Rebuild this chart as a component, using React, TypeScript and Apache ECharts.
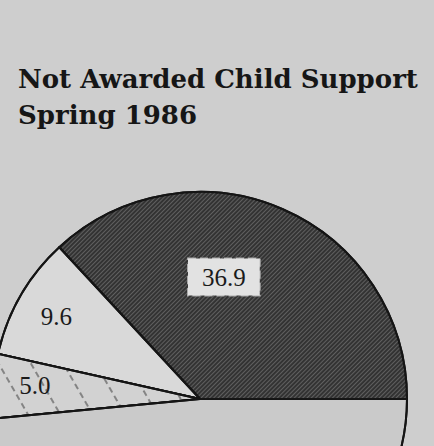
import React, { useEffect, useRef } from "react";
import * as echarts from "echarts";

const titleLines = ["Not Awarded Child Support", "Spring 1986"];
const categories = ["Awarded, not supposed", "Other", "Pending", "Remainder"];
const values = [36.9, 9.6, 5.0, 48.5];
const labelShown = [true, true, true, false];

export default function App() {
  const ref = useRef<HTMLDivElement>(null);
  useEffect(() => {
    document.body.style.margin = "0";
    const chart = echarts.init(ref.current!, undefined, { renderer: "svg" });
    const cx = 200;
    const cy = 399;
    const R = 207;
    const labelRadius = [0.6, 0.8, 0.8, 0.5];
    const labelAngleShift = [12.5, 0, -1, 0];
    const total = values.reduce((a, b) => a + b, 0);
    const fills = ["#333333", "#d9d9d9", "#d2d2d2", "#cacaca"];
    const decals: any[] = [
      {
        symbol: "rect",
        color: "rgba(200,200,200,0.3)",
        dashArrayX: [1, 0],
        dashArrayY: [1, 2],
        rotation: -Math.PI / 4,
        symbolSize: 1,
      },
      { symbol: "none" },
      {
        symbol: "rect",
        color: "rgba(80,80,80,0.6)",
        dashArrayX: [[6, 4], [0, 3]],
        dashArrayY: [2, 12],
        rotation: Math.PI / 3,
        symbolSize: 1,
      },
      { symbol: "none" },
    ];
    chart.setOption({
      animation: false,
      backgroundColor: "#cecece",
      aria: { enabled: true, decal: { show: true } },
      graphic: titleLines.map((t, i) => ({
        type: "text",
        left: 18,
        top: 66 + i * 36,
        style: {
          text: t,
          font: "bold 26px 'DejaVu Serif', serif",
          fill: "#161616",
        },
      })),
      series: [
        {
          type: "pie",
          center: [cx, cy],
          radius: [0, R],
          startAngle: 0,
          clockwise: false,
          avoidLabelOverlap: false,
          label: {
            show: true,
            position: "inside",
            formatter: (p: any) => p.value.toFixed(1),
            fontFamily: "'Liberation Serif', serif",
            fontSize: 25,
            color: "#1a1a1a",
          },
          labelLine: { show: false },
          labelLayout: (p: any) => {
            const i = p.dataIndex;
            let start = 0;
            for (let k = 0; k < i; k++) start += values[k];
            const mid = ((start + values[i] / 2) / total) * 360 + labelAngleShift[i];
            const rad = (mid * Math.PI) / 180;
            const r = R * labelRadius[i];
            return {
              x: cx + r * Math.cos(rad),
              y: cy - r * Math.sin(rad),
              align: "center",
              verticalAlign: "middle",
            };
          },
          emphasis: { disabled: true },
          data: categories.map((c, i) => ({
            name: c,
            value: values[i],
            itemStyle: {
              color: fills[i],
              borderColor: "#151515",
              borderWidth: 2,
              decal: decals[i],
            },
            label: i === 0
              ? {
                  show: true,
                  backgroundColor: "#e2e2e2",
                  padding: [7, 14, 5, 14],
                  borderColor: "#aaaaaa",
                  borderWidth: 1,
                  borderType: "dashed",
                }
              : { show: labelShown[i] },
          })),
        },
      ],
    });
    return () => chart.dispose();
  }, []);
  return (
    <div
      ref={ref}
      style={{ position: "absolute", left: 0, top: 0, width: 434, height: 446 }}
    />
  );
}
